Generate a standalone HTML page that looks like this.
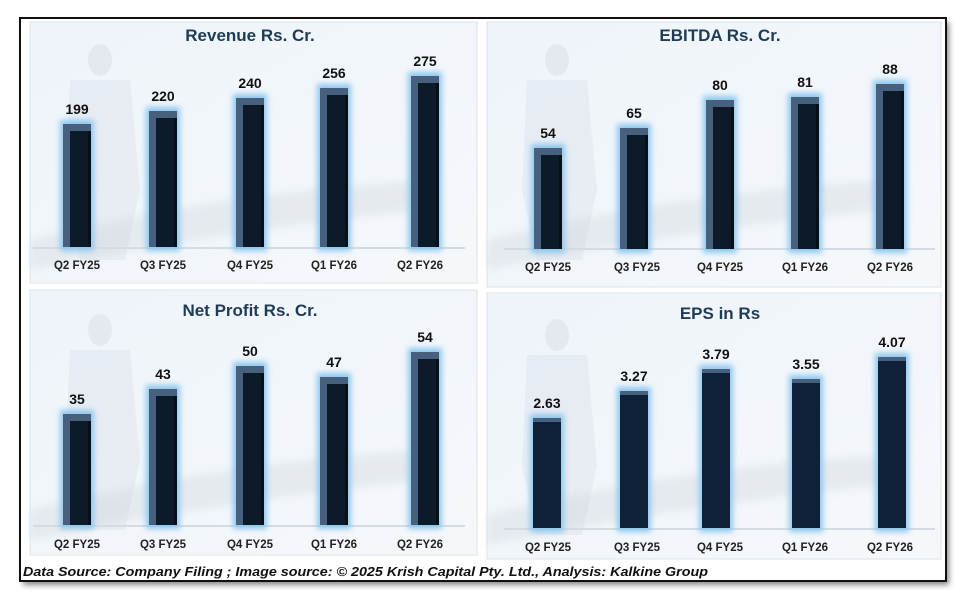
<!DOCTYPE html>
<html><head><meta charset="utf-8"><style>
html,body{margin:0;padding:0;background:#fff;width:970px;height:600px;overflow:hidden}
svg{display:block}
text{font-family:"Liberation Sans",sans-serif}
</style></head><body>
<svg width="970" height="600" viewBox="0 0 970 600">
<defs>
<filter id="bl" x="-50%" y="-20%" width="200%" height="140%"><feGaussianBlur stdDeviation="3"/></filter>
<filter id="sh"><feGaussianBlur stdDeviation="3"/></filter>
<filter id="sb"><feGaussianBlur stdDeviation="4"/></filter>
<linearGradient id="pbg" x1="0" y1="0" x2="1" y2="1"><stop offset="0" stop-color="#eef4fa"/><stop offset="1" stop-color="#f5f8fb"/></linearGradient>
<g id="deco">
  <ellipse cx="70" cy="0" rx="12" ry="16" fill="#d6dce4" opacity=".45"/>
  <path d="M40 20 L100 20 L110 130 L95 200 L50 200 L35 130 Z" fill="#d6dce4" opacity=".35"/>
  <path d="M0 180 Q200 130 400 120 L400 150 Q200 170 0 210Z" fill="#c9cfd6" opacity=".3" filter="url(#sb)"/>
</g>
</defs>
<rect x="23" y="22" width="926" height="563" fill="#888" filter="url(#sh)"/>
<rect x="20" y="18" width="926" height="563" fill="#fff" stroke="#111" stroke-width="2"/>

<rect x="30" y="22" width="447" height="261" fill="url(#pbg)" stroke="#dde3ea"/>
<rect x="487" y="22" width="454" height="265" fill="url(#pbg)" stroke="#dde3ea"/>
<rect x="30" y="290" width="447" height="265" fill="url(#pbg)" stroke="#dde3ea"/>
<rect x="487" y="293" width="454" height="266" fill="url(#pbg)" stroke="#dde3ea"/>

<use href="#deco" x="30" y="60"/>
<use href="#deco" x="487" y="60"/>
<use href="#deco" x="30" y="330"/>
<use href="#deco" x="487" y="335"/>

<line x1="33" y1="248" x2="465" y2="248" stroke="#d5dbe2" stroke-width="2"/>
<line x1="504" y1="249" x2="935" y2="249" stroke="#d5dbe2" stroke-width="2"/>
<line x1="33" y1="526" x2="465" y2="526" stroke="#d5dbe2" stroke-width="2"/>
<line x1="504" y1="529" x2="935" y2="529" stroke="#d5dbe2" stroke-width="2"/>

<g font-weight="bold" fill="#1f3b55" font-size="17" text-anchor="middle">
<text x="250" y="41">Revenue  Rs. Cr.</text>
<text x="720" y="41">EBITDA Rs. Cr.</text>
<text x="250" y="316">Net Profit Rs. Cr.</text>
<text x="720" y="319">EPS in Rs</text>
</g>

<g>
<rect x="60" y="120" width="34" height="131" fill="#8ec8ee" filter="url(#bl)"/><rect x="63" y="124" width="28" height="123" fill="#46607e"/><rect x="70" y="131" width="18" height="116" fill="#0d1a2a"/><rect x="88" y="131" width="3" height="116" fill="#070f19"/>
<rect x="146" y="107" width="34" height="144" fill="#8ec8ee" filter="url(#bl)"/><rect x="149" y="111" width="28" height="136" fill="#46607e"/><rect x="156" y="118" width="18" height="129" fill="#0d1a2a"/><rect x="174" y="118" width="3" height="129" fill="#070f19"/>
<rect x="233" y="94" width="34" height="157" fill="#8ec8ee" filter="url(#bl)"/><rect x="236" y="98" width="28" height="149" fill="#46607e"/><rect x="243" y="105" width="18" height="142" fill="#0d1a2a"/><rect x="261" y="105" width="3" height="142" fill="#070f19"/>
<rect x="317" y="84" width="34" height="167" fill="#8ec8ee" filter="url(#bl)"/><rect x="320" y="88" width="28" height="159" fill="#46607e"/><rect x="327" y="95" width="18" height="152" fill="#0d1a2a"/><rect x="345" y="95" width="3" height="152" fill="#070f19"/>
<rect x="408" y="72" width="34" height="179" fill="#8ec8ee" filter="url(#bl)"/><rect x="411" y="76" width="28" height="171" fill="#46607e"/><rect x="418" y="83" width="18" height="164" fill="#0d1a2a"/><rect x="436" y="83" width="3" height="164" fill="#070f19"/>
</g>
<g>
<rect x="531" y="144" width="34" height="109" fill="#8ec8ee" filter="url(#bl)"/><rect x="534" y="148" width="28" height="101" fill="#46607e"/><rect x="541" y="155" width="18" height="94" fill="#0d1a2a"/><rect x="559" y="155" width="3" height="94" fill="#070f19"/>
<rect x="617" y="124" width="34" height="129" fill="#8ec8ee" filter="url(#bl)"/><rect x="620" y="128" width="28" height="121" fill="#46607e"/><rect x="627" y="135" width="18" height="114" fill="#0d1a2a"/><rect x="645" y="135" width="3" height="114" fill="#070f19"/>
<rect x="703" y="96" width="34" height="157" fill="#8ec8ee" filter="url(#bl)"/><rect x="706" y="100" width="28" height="149" fill="#46607e"/><rect x="713" y="107" width="18" height="142" fill="#0d1a2a"/><rect x="731" y="107" width="3" height="142" fill="#070f19"/>
<rect x="788" y="93" width="34" height="160" fill="#8ec8ee" filter="url(#bl)"/><rect x="791" y="97" width="28" height="152" fill="#46607e"/><rect x="798" y="104" width="18" height="145" fill="#0d1a2a"/><rect x="816" y="104" width="3" height="145" fill="#070f19"/>
<rect x="873" y="80" width="34" height="173" fill="#8ec8ee" filter="url(#bl)"/><rect x="876" y="84" width="28" height="165" fill="#46607e"/><rect x="883" y="91" width="18" height="158" fill="#0d1a2a"/><rect x="901" y="91" width="3" height="158" fill="#070f19"/>
</g>
<g>
<rect x="60" y="410" width="34" height="119" fill="#8ec8ee" filter="url(#bl)"/><rect x="63" y="414" width="28" height="111" fill="#46607e"/><rect x="70" y="421" width="18" height="104" fill="#0d1a2a"/><rect x="88" y="421" width="3" height="104" fill="#070f19"/>
<rect x="146" y="385" width="34" height="144" fill="#8ec8ee" filter="url(#bl)"/><rect x="149" y="389" width="28" height="136" fill="#46607e"/><rect x="156" y="396" width="18" height="129" fill="#0d1a2a"/><rect x="174" y="396" width="3" height="129" fill="#070f19"/>
<rect x="233" y="362" width="34" height="167" fill="#8ec8ee" filter="url(#bl)"/><rect x="236" y="366" width="28" height="159" fill="#46607e"/><rect x="243" y="373" width="18" height="152" fill="#0d1a2a"/><rect x="261" y="373" width="3" height="152" fill="#070f19"/>
<rect x="317" y="373" width="34" height="156" fill="#8ec8ee" filter="url(#bl)"/><rect x="320" y="377" width="28" height="148" fill="#46607e"/><rect x="327" y="384" width="18" height="141" fill="#0d1a2a"/><rect x="345" y="384" width="3" height="141" fill="#070f19"/>
<rect x="408" y="348" width="34" height="181" fill="#8ec8ee" filter="url(#bl)"/><rect x="411" y="352" width="28" height="173" fill="#46607e"/><rect x="418" y="359" width="18" height="166" fill="#0d1a2a"/><rect x="436" y="359" width="3" height="166" fill="#070f19"/>
</g>
<g>
<rect x="530" y="414" width="34" height="118" fill="#8ec8ee" filter="url(#bl)"/><rect x="533" y="418" width="28" height="110" fill="#0f2138"/><rect x="533" y="418" width="28" height="4" fill="#46607e"/>
<rect x="617" y="387" width="34" height="145" fill="#8ec8ee" filter="url(#bl)"/><rect x="620" y="391" width="28" height="137" fill="#0f2138"/><rect x="620" y="391" width="28" height="4" fill="#46607e"/>
<rect x="699" y="365" width="34" height="167" fill="#8ec8ee" filter="url(#bl)"/><rect x="702" y="369" width="28" height="159" fill="#0f2138"/><rect x="702" y="369" width="28" height="4" fill="#46607e"/>
<rect x="789" y="375" width="34" height="157" fill="#8ec8ee" filter="url(#bl)"/><rect x="792" y="379" width="28" height="149" fill="#0f2138"/><rect x="792" y="379" width="28" height="4" fill="#46607e"/>
<rect x="875" y="353" width="34" height="179" fill="#8ec8ee" filter="url(#bl)"/><rect x="878" y="357" width="28" height="171" fill="#0f2138"/><rect x="878" y="357" width="28" height="4" fill="#46607e"/>
</g>

<g font-weight="bold" fill="#111" font-size="14" text-anchor="middle">
<text x="77" y="114">199</text><text x="163" y="101">220</text><text x="250" y="88">240</text><text x="334" y="78">256</text><text x="425" y="66">275</text>
<text x="548" y="138">54</text><text x="634" y="118">65</text><text x="720" y="90">80</text><text x="805" y="87">81</text><text x="890" y="74">88</text>
<text x="77" y="404">35</text><text x="163" y="379">43</text><text x="250" y="356">50</text><text x="334" y="367">47</text><text x="425" y="342">54</text>
<text x="547" y="408">2.63</text><text x="634" y="381">3.27</text><text x="716" y="359">3.79</text><text x="806" y="369">3.55</text><text x="892" y="347">4.07</text>
</g>

<g font-weight="bold" fill="#222" font-size="11.5" text-anchor="middle">
<text x="77" y="269">Q2 FY25</text><text x="163" y="269">Q3 FY25</text><text x="250" y="269">Q4 FY25</text><text x="334" y="269">Q1 FY26</text><text x="420" y="269">Q2 FY26</text>
<text x="548" y="271">Q2 FY25</text><text x="637" y="271">Q3 FY25</text><text x="720" y="271">Q4 FY25</text><text x="805" y="271">Q1 FY26</text><text x="890" y="271">Q2 FY26</text>
<text x="77" y="548">Q2 FY25</text><text x="163" y="548">Q3 FY25</text><text x="250" y="548">Q4 FY25</text><text x="334" y="548">Q1 FY26</text><text x="420" y="548">Q2 FY26</text>
<text x="548" y="551">Q2 FY25</text><text x="637" y="551">Q3 FY25</text><text x="720" y="551">Q4 FY25</text><text x="805" y="551">Q1 FY26</text><text x="890" y="551">Q2 FY26</text>
</g>

<text x="23" y="576" font-size="13" font-style="italic" font-weight="bold" fill="#111" textLength="685" lengthAdjust="spacingAndGlyphs">Data Source: Company Filing ; Image source: © 2025 Krish Capital Pty. Ltd., Analysis: Kalkine Group</text>
</svg>
</body></html>
